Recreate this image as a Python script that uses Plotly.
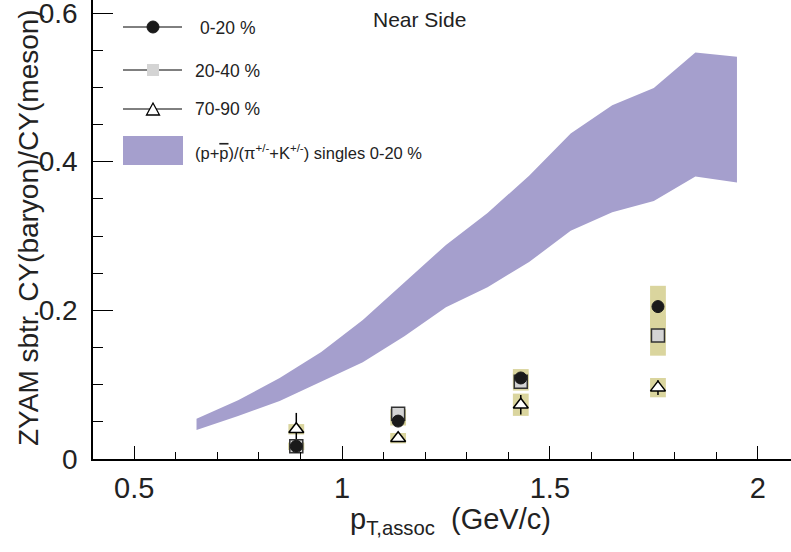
import plotly.graph_objects as go

# ---- data ----
pt_points = [0.89, 1.135, 1.43, 1.76]

c0020 = [0.017, 0.051, 0.109, 0.205]
c0020_stat = [0.004, 0.004, 0.005, 0.008]
c0020_sys = [0.005, 0.006, 0.012, 0.028]

c2040 = [0.017, 0.061, 0.104, 0.166]
c2040_stat = [0.004, 0.004, 0.005, 0.008]
c2040_sys = [0.005, 0.006, 0.012, 0.027]

c7090 = [0.040, 0.028, 0.073, 0.096]
c7090_stat = [0.022, 0.004, 0.013, 0.010]
c7090_sys = [0.007, 0.007, 0.015, 0.013]

band_pt = [0.65, 0.75, 0.85, 0.95, 1.05, 1.15, 1.25, 1.35, 1.45, 1.55, 1.65, 1.75, 1.85, 1.95]
band_hi = [0.054, 0.079, 0.109, 0.144, 0.187, 0.237, 0.288, 0.331, 0.381, 0.438, 0.476, 0.499, 0.547, 0.541]
band_lo = [0.039, 0.058, 0.078, 0.104, 0.130, 0.165, 0.204, 0.231, 0.265, 0.307, 0.332, 0.347, 0.380, 0.372]

x_ticks = [0.5, 1, 1.5, 2]
x_ticklabels = ["0.5", "1", "1.5", "2"]
y_ticks = [0, 0.2, 0.4, 0.6]
y_ticklabels = ["0", "0.2", "0.4", "0.6"]

legend_names = ["0-20 %", "20-40 %", "70-90 %",
                "(p+<span style='text-decoration:overline'>p</span>)/(π<sup>+/-</sup>+K<sup>+/-</sup>) singles 0-20 %"]

BAND = "rgb(165,159,205)"
SYS = "rgb(218,213,158)"
FONT = "Liberation Sans, Arial, sans-serif"
TXT = "#222"

W, H = 791, 552
ML, MR, MT, MB = 93, 0, 0, 93
PW, PH = W - ML - MR, H - MT - MB


def px(xp):
    return (xp - ML) / PW


def py(yp):
    return (H - MB - yp) / PH


fig = go.Figure()

# band
fig.add_trace(go.Scatter(
    x=band_pt + band_pt[::-1], y=band_hi + band_lo[::-1],
    fill="toself", fillcolor=BAND, line=dict(width=0, color=BAND),
    mode="lines", hoverinfo="skip", showlegend=False))

# systematic boxes
half_w = 0.019
shapes = []
for vals, sys in [(c7090, c7090_sys), (c0020, c0020_sys), (c2040, c2040_sys)]:
    for x, v, s in zip(pt_points, vals, sys):
        shapes.append(dict(type="rect", xref="x", yref="y", layer="below",
                           x0=x - half_w, x1=x + half_w, y0=v - s, y1=v + s,
                           fillcolor=SYS, line=dict(width=0)))

series = [
    (c0020, c0020_stat, dict(symbol="circle", size=12, color="#1a1a1a",
                             line=dict(color="#1a1a1a", width=1))),
    (c2040, c2040_stat, dict(symbol="square", size=13, color="#d4d4d4",
                             line=dict(color="#333333", width=1.5))),
    (c7090, c7090_stat, dict(symbol="triangle-up", size=13, color="white",
                             line=dict(color="black", width=1.5))),
]
for i in [2, 1, 0]:
    vals, stat, mk = series[i]
    fig.add_trace(go.Scatter(
        x=pt_points, y=vals, mode="markers", marker=mk, name=legend_names[i],
        error_y=dict(type="data", array=stat, color="black", thickness=1.5, width=0),
        showlegend=False))

# ---- manual legend (paper coords) ----
leg_y = [27, 70, 109]
for yy in leg_y:
    shapes.append(dict(type="line", xref="paper", yref="paper",
                       x0=px(123), x1=px(182), y0=py(yy), y1=py(yy),
                       line=dict(color="black", width=1)))
shapes.append(dict(type="circle", xref="paper", yref="paper",
                   x0=px(147), x1=px(159), y0=py(33), y1=py(21),
                   fillcolor="#1a1a1a", line=dict(color="#1a1a1a", width=1)))
shapes.append(dict(type="rect", xref="paper", yref="paper",
                   x0=px(147), x1=px(159), y0=py(76), y1=py(64),
                   fillcolor="#d4d4d4", line=dict(width=0)))
shapes.append(dict(type="path", xref="paper", yref="paper",
                   path=f"M {px(146.5)} {py(115)} L {px(159.5)} {py(115)} L {px(153)} {py(103)} Z",
                   fillcolor="white", line=dict(color="black", width=1.3)))
shapes.append(dict(type="rect", xref="paper", yref="paper",
                   x0=px(123), x1=px(183), y0=py(165), y1=py(136),
                   fillcolor=BAND, line=dict(width=0)))

annotations = []
for name, xx, yy in zip(legend_names, [198, 193, 193, 193], [28, 71, 109, 152]):
    annotations.append(dict(text=name, x=px(xx), y=py(yy), xref="paper", yref="paper",
                            xanchor="left", yanchor="middle", showarrow=False,
                            font=dict(size=17.5 if "singles" not in name else 16.5,
                                      family=FONT, color=TXT)))
annotations.append(dict(text="Near Side", x=px(371), y=py(19), xref="paper", yref="paper",
                        xanchor="left", yanchor="middle", showarrow=False,
                        font=dict(size=21, family=FONT, color=TXT)))
annotations.append(dict(text="p<sub>T,assoc</sub>  (GeV/c)", x=px(450), y=py(521),
                        xref="paper", yref="paper", xanchor="center", yanchor="middle",
                        showarrow=False, font=dict(size=29, family=FONT, color=TXT)))
annotations.append(dict(text="ZYAM sbtr. CY(baryon)/CY(meson)", x=px(28), y=py(228),
                        xref="paper", yref="paper", xanchor="center", yanchor="middle",
                        textangle=-90, showarrow=False,
                        font=dict(size=28, family=FONT, color=TXT)))

fig.update_layout(
    width=W, height=H,
    margin=dict(l=ML, r=MR, t=MT, b=MB),
    paper_bgcolor="white", plot_bgcolor="white",
    font=dict(family=FONT, color=TXT),
    shapes=shapes, annotations=annotations,
    showlegend=False,
    xaxis=dict(range=[0.401, 2.08], showgrid=False, zeroline=False, automargin=False,
               showline=True, linecolor="black", linewidth=1.5,
               tickvals=x_ticks, ticktext=x_ticklabels,
               ticks="inside", ticklen=13, tickwidth=1.3, tickcolor="black",
               tickfont=dict(size=29, family=FONT, color=TXT),
               minor=dict(dtick=0.1, tick0=0, ticks="inside", ticklen=7,
                          tickwidth=1, tickcolor="black"),
               ticklabelstandoff=2, ticklabeloverflow="allow"),
    yaxis=dict(range=[0, 0.6175], showgrid=False, zeroline=False, automargin=False,
               showline=True, linecolor="black", linewidth=1.5,
               tickvals=y_ticks, ticktext=y_ticklabels,
               ticks="inside", ticklen=20, tickwidth=1.3, tickcolor="black",
               tickfont=dict(size=28, family=FONT, color=TXT),
               minor=dict(dtick=0.05, tick0=0, ticks="inside", ticklen=10,
                          tickwidth=1, tickcolor="black"),
               ticklabelstandoff=8, ticklabeloverflow="allow"),
)

fig.write_html("out.html", config={"displayModeBar": False},
               post_script="document.body.style.margin='0px';document.body.style.overflow='hidden';")
